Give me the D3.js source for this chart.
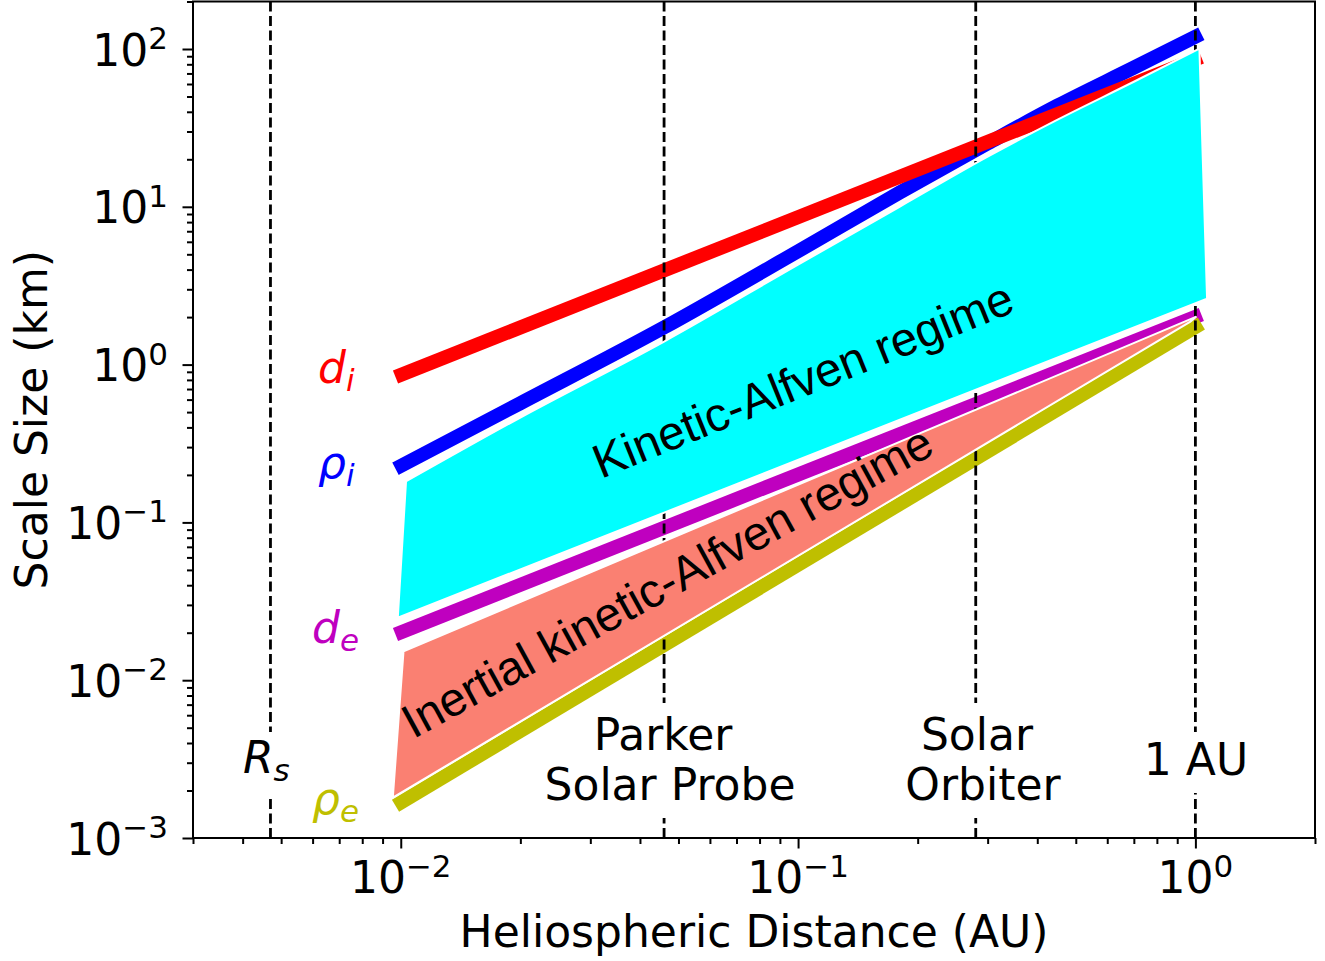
<!DOCTYPE html>
<html>
<head>
<meta charset="utf-8">
<script src="https://cdn.jsdelivr.net/npm/d3@7"></script>
<style>
  body { margin: 0; background: #fff; }
  text { font-family: "DejaVu Sans", sans-serif; }
</style>
</head>
<body>
<div id="chart"></div>
<script>
// Scale lengths (km) vs heliospheric distance (AU)
const diX = [0.0097, 1.035];
const diVal = [0.834, 89];
const rhoIX = [0.0097, 0.02, 0.046, 0.1, 0.18, 0.3, 0.45, 0.7, 1.035];
const rhoIVal = [0.219, 0.569, 1.72, 5.23, 12.3, 25.2, 43.8, 76.2, 125];
const deX = [0.0097, 1.035];
const deVal = [0.0195, 2.08];
const rhoEX = [0.0097, 1.035];
const rhoEVal = [0.0016, 1.82];

// Regime polygons: upper edge left->right, lower edge left->right
const kawTopX = [0.01031, 0.02, 0.046, 0.1, 0.18, 0.3, 0.45, 0.7, 1.0235];
const kawTopVal = [0.182, 0.462, 1.40, 4.30, 10.0, 20.8, 35.7, 62.0, 100.6];
const kawBotX = [0.00983, 1.07];
const kawBotVal = [0.0249, 2.62];
const ikawTopX = [0.01016, 1.006];
const ikawTopVal = [0.01524, 2.015];
const ikawBotX = [0.00955, 0.9714];
const ikawBotVal = [0.0018, 1.873];

// Reference distances (AU)
const markerNames = ["Rs", "Parker Solar Probe", "Solar Orbiter", "1 AU"];
const markerX = [0.0047, 0.046, 0.28, 1.0];

const xMajor = [0.01, 0.1, 1];
const yMajor = [1e-3, 1e-2, 1e-1, 1, 10, 100];

const width = 1325, height = 961;
const plot = { left: 193, right: 1315, top: 1.5, bottom: 838 };

const svg = d3.select("#chart").append("svg")
    .attr("width", width)
    .attr("height", height);

const x = d3.scaleLog().domain([0.003, 2]).range([plot.left, plot.right]);
const y = d3.scaleLog().domain([1e-3, 200]).range([plot.bottom, plot.top]);

const zip = (xs, vs) => xs.map((v, i) => [v, vs[i]]);
const smooth = d3.line().x(d => x(d[0])).y(d => y(d[1])).curve(d3.curveMonotoneX);

// minor tick positions
function minorTicks(scale) {
    const [a, b] = scale.domain();
    const out = [];
    for (let e = Math.floor(Math.log10(a)); e <= Math.ceil(Math.log10(b)); e++) {
        for (let m = 2; m <= 9; m++) {
            const v = m * Math.pow(10, e);
            if (v >= a * 0.999 && v <= b * 1.001) out.push(v);
        }
    }
    return out;
}

// Axes
function styleAxis(g) {
    g.select(".domain").remove();
    g.selectAll(".tick line").attr("stroke", "#000").attr("stroke-width", 2);
}
svg.append("g").attr("transform", `translate(0,${plot.bottom})`)
    .call(d3.axisBottom(x).tickValues(xMajor).tickSize(10.5).tickFormat(""))
    .call(styleAxis);
svg.append("g").attr("transform", `translate(0,${plot.bottom})`)
    .call(d3.axisBottom(x).tickValues(minorTicks(x)).tickSize(6).tickFormat(""))
    .call(styleAxis);
svg.append("g").attr("transform", `translate(${plot.left},0)`)
    .call(d3.axisLeft(y).tickValues(yMajor).tickSize(10.5).tickFormat(""))
    .call(styleAxis);
svg.append("g").attr("transform", `translate(${plot.left},0)`)
    .call(d3.axisLeft(y).tickValues(minorTicks(y)).tickSize(6).tickFormat(""))
    .call(styleAxis);

function powLabel(sel, v) {
    const e = Math.round(Math.log10(v));
    sel.append("tspan").text("10");
    sel.append("tspan").attr("dy", -16.5).attr("font-size", 31)
        .text(e < 0 ? "\u2212" + (-e) : String(e));
}

svg.selectAll(".xlab").data(xMajor).enter().append("text")
    .attr("class", "xlab")
    .attr("x", d => x(d)).attr("y", 893)
    .attr("text-anchor", "middle").attr("font-size", 44)
    .each(function (d) { powLabel(d3.select(this), d); });

svg.selectAll(".ylab").data(yMajor).enter().append("text")
    .attr("class", "ylab")
    .attr("x", 168).attr("y", d => y(d) + 16.5)
    .attr("text-anchor", "end").attr("font-size", 44)
    .each(function (d) { powLabel(d3.select(this), d); });

svg.append("text")
    .attr("x", (plot.left + plot.right) / 2).attr("y", 947)
    .attr("text-anchor", "middle").attr("font-size", 44)
    .text("Heliospheric Distance (AU)");
svg.append("text")
    .attr("transform", `translate(47,${(plot.top + plot.bottom) / 2}) rotate(-90)`)
    .attr("text-anchor", "middle").attr("font-size", 44)
    .text("Scale Size (km)");

// Scale curves
const curves = [
    { x: rhoIX, v: rhoIVal, color: "#0000ff" },
    { x: diX, v: diVal, color: "#ff0000" },
    { x: deX, v: deVal, color: "#bf00bf" },
    { x: rhoEX, v: rhoEVal, color: "#bfbf00" },
];
svg.selectAll(".curve").data(curves).enter().append("path")
    .attr("class", "curve")
    .attr("d", d => smooth(zip(d.x, d.v)))
    .attr("fill", "none")
    .attr("stroke", d => d.color)
    .attr("stroke-width", 14);

// Dashed reference lines
svg.selectAll(".vline").data(markerX).enter().append("line")
    .attr("class", "vline")
    .attr("x1", d => x(d)).attr("x2", d => x(d))
    .attr("y1", plot.bottom).attr("y2", plot.top)
    .attr("stroke", "#000").attr("stroke-width", 2.8)
    .attr("stroke-dasharray", "10,4.5");

// Regime polygons (smooth upper edge, straight lower edge)
function polygon(topX, topV, botX, botV) {
    const back = zip(botX, botV).reverse()
        .map(d => `L${x(d[0])},${y(d[1])}`).join("");
    return smooth(zip(topX, topV)) + back + "Z";
}
svg.append("path")
    .attr("d", polygon(kawTopX, kawTopVal, kawBotX, kawBotVal))
    .attr("fill", "#00ffff").attr("stroke", "#fff").attr("stroke-width", 2);
svg.append("path")
    .attr("d", polygon(ikawTopX, ikawTopVal, ikawBotX, ikawBotVal))
    .attr("fill", "#fa8072").attr("stroke", "#fff").attr("stroke-width", 2);

svg.append("text")
    .attr("transform", "translate(809,395) rotate(-22)")
    .attr("text-anchor", "middle")
    .style("font-family", "'Liberation Sans', Arial, sans-serif")
    .attr("font-size", 47.5)
    .text("Kinetic-Alfven regime");
svg.append("text")
    .attr("transform", "translate(675,596) rotate(-28.7)")
    .attr("text-anchor", "middle")
    .style("font-family", "'Liberation Sans', Arial, sans-serif")
    .attr("font-size", 47.5)
    .text("Inertial kinetic-Alfven regime");

// Marker labels: white gaps in the dashed lines behind the text
const markerBoxes = [
    { i: 0, y0: 732, y1: 797 },
    { i: 1, y0: 703, y1: 818 },
    { i: 2, y0: 703, y1: 818 },
    { i: 3, y0: 732, y1: 793 },
];
svg.selectAll(".mbox").data(markerBoxes).enter().append("rect")
    .attr("class", "mbox")
    .attr("x", d => x(markerX[d.i]) - 8)
    .attr("y", d => d.y0)
    .attr("width", 16)
    .attr("height", d => d.y1 - d.y0)
    .attr("fill", "#fff");

const plainLabels = [
    { text: "Parker", x: 663, y: 750 },
    { text: "Solar Probe", x: 670, y: 800 },
    { text: "Solar", x: 977, y: 750 },
    { text: "Orbiter", x: 983, y: 800 },
    { text: "1 AU", x: 1196, y: 775 },
];
svg.selectAll(".plab").data(plainLabels).enter().append("text")
    .attr("class", "plab")
    .attr("x", d => d.x).attr("y", d => d.y)
    .attr("text-anchor", "middle").attr("font-size", 44)
    .text(d => d.text);

const mathLabels = [
    { base: "R", sub: "s", x: 243, y: 773, color: "#000" },
    { base: "d", sub: "i", x: 318, y: 383, color: "#ff0000" },
    { base: "\u03c1", sub: "i", x: 318, y: 478, color: "#0000ff" },
    { base: "d", sub: "e", x: 312, y: 643, color: "#bf00bf" },
    { base: "\u03c1", sub: "e", x: 312, y: 814, color: "#bfbf00" },
];
svg.selectAll(".mlab").data(mathLabels).enter().append("text")
    .attr("class", "mlab")
    .attr("x", d => d.x).attr("y", d => d.y)
    .attr("font-size", 44).attr("font-style", "italic")
    .attr("fill", d => d.color)
    .each(function (d) {
        const t = d3.select(this);
        t.append("tspan").text(d.base);
        t.append("tspan").attr("dy", 8).attr("font-size", 31).text(d.sub);
    });

// Frame
svg.append("rect")
    .attr("x", plot.left).attr("y", plot.top)
    .attr("width", plot.right - plot.left).attr("height", plot.bottom - plot.top)
    .attr("fill", "none").attr("stroke", "#000").attr("stroke-width", 2);
</script>
</body>
</html>
